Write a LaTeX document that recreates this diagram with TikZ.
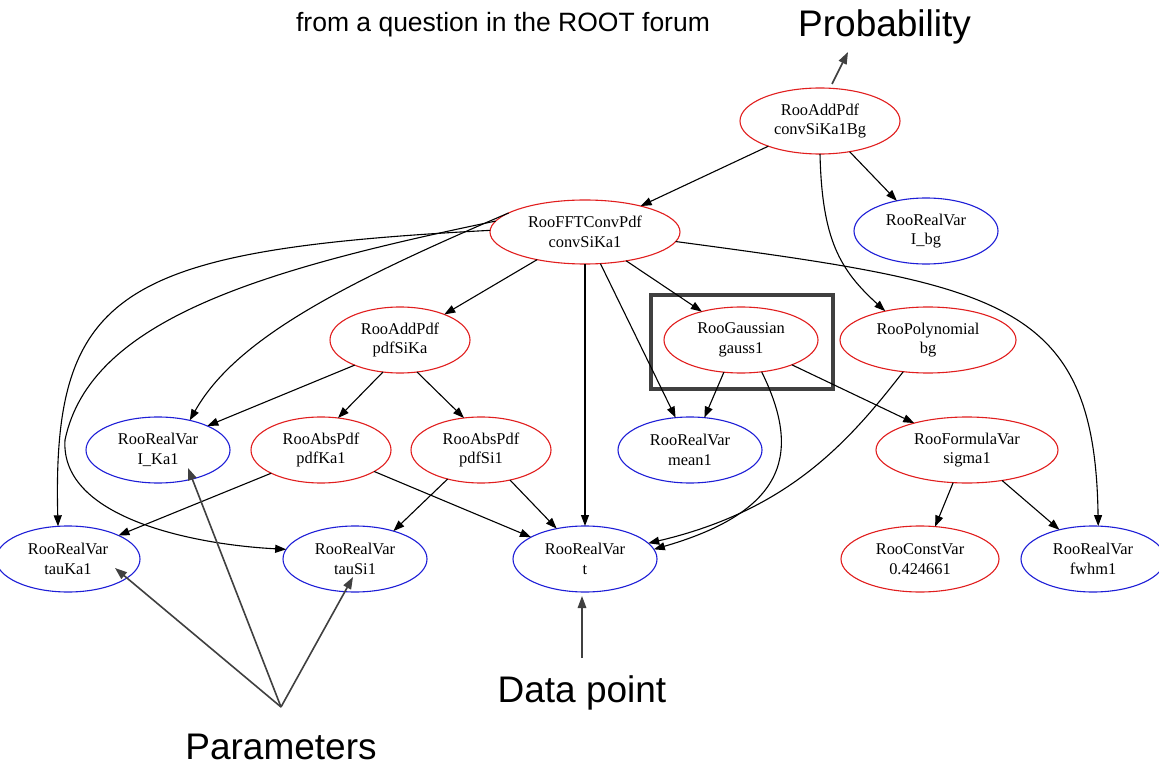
\documentclass[tikz,border=0pt]{standalone}
\usepackage{fontspec}
\setmainfont{Liberation Serif}
\newfontfamily\labelfont{Liberation Sans}
\usetikzlibrary{arrows.meta,shapes.geometric}
\definecolor{gvred}{RGB}{225,30,30}
\definecolor{gvblue}{RGB}{30,30,215}
\definecolor{annot}{RGB}{64,64,64}
\begin{document}
\begin{tikzpicture}[x=1pt,y=-1pt,
  gv/.style={ellipse, draw, line width=1.1pt, inner sep=0pt, outer sep=0pt, align=center,
             minimum height=66pt, font=\fontsize{16.4}{19.5}\selectfont},
  pdfnode/.style={gv, draw=gvred},
  varnode/.style={gv, draw=gvblue},
  edge/.style={-{Triangle[length=11pt,width=8pt]}, line width=1.1pt, black},
  annarrow/.style={-{Triangle[length=12pt,width=8.5pt]}, line width=1.6pt, annot},
  biglabel/.style={font=\labelfont\fontsize{37}{40}\selectfont, inner sep=0pt},
  smalllabel/.style={font=\labelfont\fontsize{26.5}{30}\selectfont, inner sep=0pt}
]
\useasboundingbox[fill=white] (0,0) rectangle (1159,767);

% row 0
\node[pdfnode, minimum width=160pt] (addbg) at (820,121) {RooAddPdf\\convSiKa1Bg};
% row 1
\node[pdfnode, minimum width=190pt, minimum height=64pt] (fft) at (585,232) {RooFFTConvPdf\\convSiKa1};
\node[varnode, minimum width=144pt] (ibg) at (926,231) {RooRealVar\\I\_bg};
% row 2
\node[pdfnode, minimum width=140pt] (pdfsika) at (400,340) {RooAddPdf\\pdfSiKa};
\node[pdfnode, minimum width=154pt] (gauss) at (741,340) {RooGaussian\\gauss1};
\node[pdfnode, minimum width=176pt] (poly) at (928,340) {RooPolynomial\\bg};
% row 3
\node[varnode, minimum width=144pt] (ika) at (158,450) {RooRealVar\\I\_Ka1};
\node[pdfnode, minimum width=140pt] (pdfka) at (321,450) {RooAbsPdf\\pdfKa1};
\node[pdfnode, minimum width=140pt] (pdfsi) at (481,450) {RooAbsPdf\\pdfSi1};
\node[varnode, minimum width=144pt] (mean) at (690,450) {RooRealVar\\mean1};
\node[pdfnode, minimum width=182pt] (sigma) at (967,450) {RooFormulaVar\\sigma1};
% row 4
\node[varnode, minimum width=144pt] (tauka) at (68,559) {RooRealVar\\tauKa1};
\node[varnode, minimum width=144pt] (tausi) at (355,559) {RooRealVar\\tauSi1};
\node[varnode, minimum width=144pt] (tvar) at (585,559) {RooRealVar\\t};
\node[pdfnode, minimum width=158pt] (const) at (920,559) {RooConstVar\\0.424661};
\node[varnode, minimum width=144pt] (fwhm) at (1093,559) {RooRealVar\\fwhm1};

% highlight box
\draw[annot, line width=4pt] (651,295) rectangle (833,389);

% edges
\draw[edge] (addbg.206) -- (fft.25);
\draw[edge] (addbg.-46) -- (ibg.134);
\draw[edge] (addbg.-90) .. controls (822,240) and (840,270) .. (poly.146);
\draw[edge] (fft.210) -- (pdfsika.30);
\draw[edge] (fft.-35) -- (gauss.144);
\draw[edge] (fft.-64) -- (mean.114);
\draw[edge] (fft.south) -- (tvar.north);
\draw[edge] (fft.-6) .. controls (1000,285) and (1095,300) .. (fwhm.81);
\draw[edge] (fft.179) .. controls (120,250) and (52,290) .. (tauka.107);
\draw[edge] (fft.173) .. controls (260,270) and (90,320) .. (65,440)
                      .. controls (60,520) and (200,545) .. (tausi.172);
\draw[edge] (fft.166) .. controls (340,285) and (235,340) .. (ika.43);
\draw[edge] (pdfsika.209) -- (ika.26);
\draw[edge] (pdfsika.-118) -- (pdfka.62);
\draw[edge] (pdfsika.-62) -- (pdfsi.118);
\draw[edge] (gauss.-118) -- (mean.66);
\draw[edge] (gauss.-57) .. controls (800,450) and (790,510) .. (tvar.8);
\draw[edge] (gauss.-26) -- (sigma.153);
\draw[edge] (poly.-128) .. controls (850,440) and (790,510) .. (tvar.14);
\draw[edge] (pdfka.205) -- (tauka.25);
\draw[edge] (pdfka.-22) -- (tvar.158);
\draw[edge] (pdfsi.221) -- (tausi.36);
\draw[edge] (pdfsi.-46) -- (tvar.133);
\draw[edge] (sigma.-113) -- (const.65);
\draw[edge] (sigma.-41) -- (fwhm.139);

% annotations
\node[smalllabel, anchor=base] (src) at (503,32) {from a question in the ROOT forum};
\node[biglabel, anchor=base west] (prob) at (798,37) {Probability};
\coordinate (probtail) at (832,84);
\coordinate (probtip) at (848,52);
\draw[annarrow] (probtail) -- (probtip);

\node[biglabel, anchor=base] (datapt) at (582,702) {Data point};
\coordinate (datatail) at (582,658);
\coordinate (datatip) at (582,596);
\draw[annarrow] (datatail) -- (datatip);

\node[biglabel, anchor=base] (params) at (281,759) {Parameters};
\coordinate (hub) at (281,707);
\coordinate (tipTauKa) at (115,568);
\coordinate (tipIKa) at (188,468);
\coordinate (tipTauSi) at (353,577);
\draw[annarrow] (hub) -- (tipTauKa);
\draw[annarrow] (hub) -- (tipIKa);
\draw[annarrow] (hub) -- (tipTauSi);
\end{tikzpicture}
\end{document}
